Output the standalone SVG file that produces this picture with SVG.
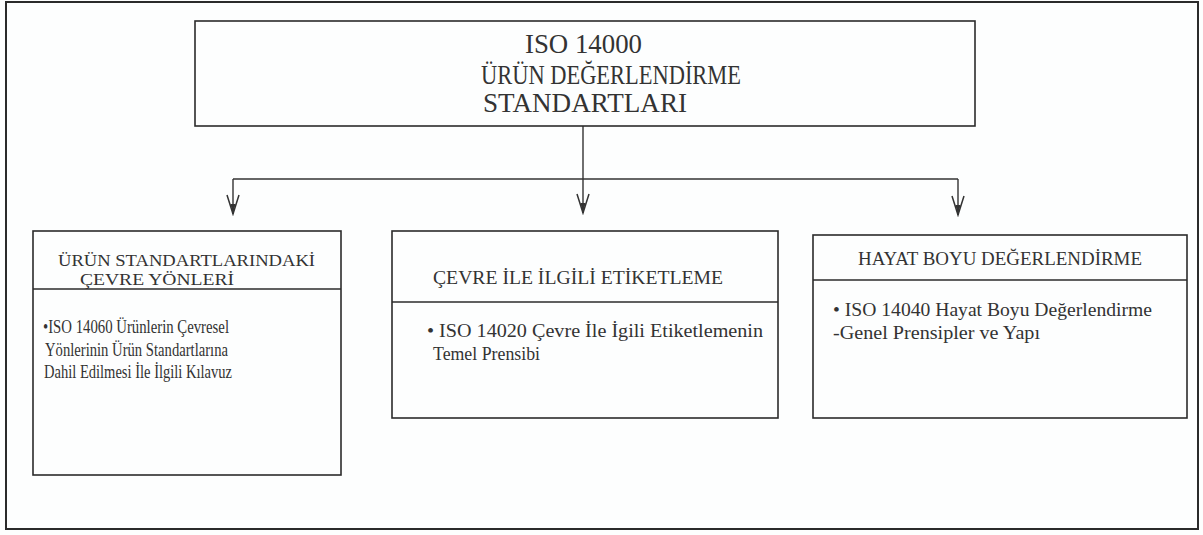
<svg xmlns="http://www.w3.org/2000/svg" width="1203" height="535" viewBox="0 0 1203 535">
  <style>
    .frame { fill: none; stroke: #2b2b2b; stroke-width: 2; }
    .box { fill: none; stroke: #2b2b2b; stroke-width: 1.6; }
    .div { stroke: #2b2b2b; stroke-width: 1.6; }
    .conn { fill: none; stroke: #333; stroke-width: 1.4; }
    text { font-family: "Liberation Serif", "Times New Roman", serif; fill: #333; }
    .title { font-size: 28px; }
    .head { font-size: 19px; }
    .lhead { font-size: 16px; }
    .body { font-size: 19px; }
    .lbody { font-size: 18px; }
  </style>
  <defs>
    <marker id="arr" viewBox="-21 -8 23 16" refX="0" refY="0" markerWidth="23" markerHeight="16" markerUnits="userSpaceOnUse" orient="auto">
      <path d="M-19,-6 L0,0 L-19,6" fill="none" stroke="#333" stroke-width="1.5"/>
      <path d="M-10,-2.6 L0,0 L-10,2.6 Z" fill="#333"/>
    </marker>
  </defs>
  <rect x="0" y="0" width="1203" height="535" fill="#fdfefe"/>
  <rect class="frame" x="6" y="2" width="1192" height="527"/>

  <g id="connectors">
    <path class="conn" d="M583,126 V179"/>
    <path class="conn" d="M233,179 H958"/>
    <path class="conn" d="M233,179 V214" marker-end="url(#arr)"/>
    <path class="conn" d="M583,179 V213" marker-end="url(#arr)"/>
    <path class="conn" d="M958,179 V215" marker-end="url(#arr)"/>
  </g>

  <g id="node-root">
    <rect class="box" x="195" y="21" width="780" height="105"/>
    <text class="title" x="525" y="53" textLength="117" lengthAdjust="spacingAndGlyphs">ISO 14000</text>
    <text class="title" x="481" y="84" textLength="260" lengthAdjust="spacingAndGlyphs">ÜRÜN DEĞERLENDİRME</text>
    <text class="title" x="483" y="112" textLength="204" lengthAdjust="spacingAndGlyphs">STANDARTLARI</text>
  </g>

  <g id="node-urun">
    <rect class="box" x="33" y="231" width="308" height="244"/>
    <line class="div" x1="33" y1="289" x2="341" y2="289"/>
    <text class="lhead" x="58" y="266" textLength="257" lengthAdjust="spacingAndGlyphs">ÜRÜN STANDARTLARINDAKİ</text>
    <text class="lhead" x="80" y="285" textLength="154" lengthAdjust="spacingAndGlyphs">ÇEVRE YÖNLERİ</text>
    <text class="lbody" x="43" y="333" textLength="186" lengthAdjust="spacingAndGlyphs">•ISO 14060 Ürünlerin Çevresel</text>
    <text class="lbody" x="45" y="356" textLength="183" lengthAdjust="spacingAndGlyphs">Yönlerinin Ürün Standartlarına</text>
    <text class="lbody" x="44" y="378" textLength="188" lengthAdjust="spacingAndGlyphs">Dahil Edilmesi İle İlgili Kılavuz</text>
  </g>

  <g id="node-cevre">
    <rect class="box" x="392" y="231" width="386" height="187"/>
    <line class="div" x1="392" y1="302" x2="778" y2="302"/>
    <text class="head" x="433" y="284" textLength="290" lengthAdjust="spacingAndGlyphs">ÇEVRE İLE İLGİLİ ETİKETLEME</text>
    <text class="body" x="427" y="337" textLength="336" lengthAdjust="spacingAndGlyphs">• ISO 14020 Çevre İle İgili Etiketlemenin</text>
    <text class="body" x="433" y="360" textLength="107" lengthAdjust="spacingAndGlyphs">Temel Prensibi</text>
  </g>

  <g id="node-hayat">
    <rect class="box" x="813" y="235" width="374" height="183"/>
    <line class="div" x1="813" y1="280" x2="1187" y2="280"/>
    <text class="head" x="858" y="265" textLength="284" lengthAdjust="spacingAndGlyphs">HAYAT BOYU DEĞERLENDİRME</text>
    <text class="body" x="833" y="316" textLength="319" lengthAdjust="spacingAndGlyphs">• ISO 14040 Hayat Boyu Değerlendirme</text>
    <text class="body" x="833" y="339" textLength="207" lengthAdjust="spacingAndGlyphs">-Genel Prensipler ve Yapı</text>
  </g>
</svg>
